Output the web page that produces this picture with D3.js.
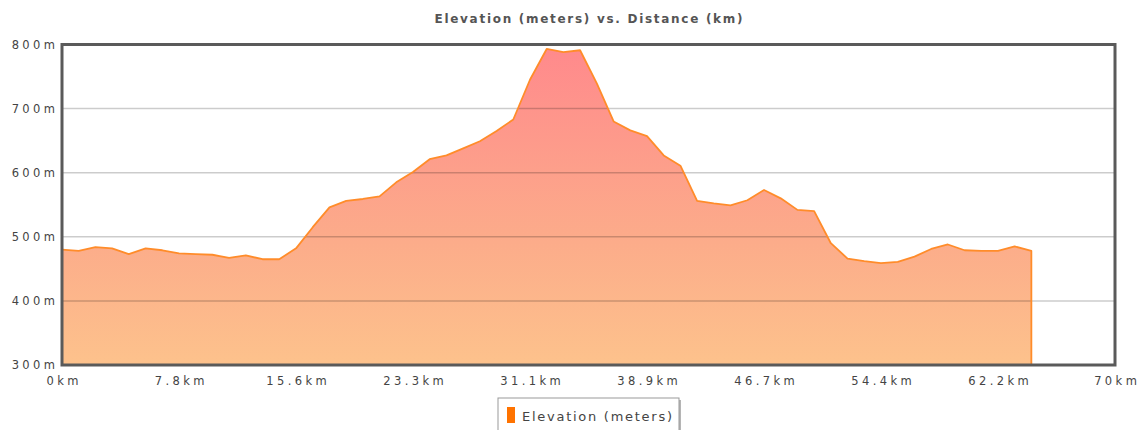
<!DOCTYPE html>
<html>
<head>
<meta charset="utf-8">
<script src="https://cdn.jsdelivr.net/npm/d3@7"></script>
<style>
  html, body { margin: 0; padding: 0; background: #fff; }
  svg { display: block; }
</style>
</head>
<body>
<svg id="chart" width="1147" height="430"></svg>
<script>
// ---- Data ----
const distanceKm = [0, 1.11, 2.22, 3.33, 4.44, 5.56, 6.67, 7.78, 8.89, 10.0,
  11.11, 12.22, 13.33, 14.44, 15.56, 16.67, 17.78, 18.89, 20.0, 21.11,
  22.22, 23.33, 24.44, 25.56, 26.67, 27.78, 28.89, 30.0, 31.11, 32.22,
  33.33, 34.44, 35.56, 36.67, 37.78, 38.89, 40.0, 41.11, 42.22, 43.33,
  44.44, 45.56, 46.67, 47.78, 48.89, 50.0, 51.11, 52.22, 53.33, 54.44,
  55.56, 56.67, 57.78, 58.89, 60.0, 61.11, 62.22, 63.33, 64.44];
const elevationM = [480, 478, 484, 482, 473, 482, 479, 474, 473, 472,
  467, 471, 465, 465, 482, 515, 546, 556, 559, 563,
  585, 601, 621, 627, 638, 649, 665, 683, 745, 793,
  788, 791, 739, 680, 666, 657, 627, 611, 556, 552,
  549, 557, 573, 560, 542, 540, 490, 466, 462, 459,
  461, 469, 481, 488, 479, 478, 478, 485, 478];
const xTickValues = [0, 7.78, 15.56, 23.33, 31.11, 38.89, 46.67, 54.44, 62.22, 70];
const xTickLabels = ["0km", "7.8km", "15.6km", "23.3km", "31.1km", "38.9km", "46.7km", "54.4km", "62.2km", "70km"];
const yTickValues = [300, 400, 500, 600, 700, 800];
const yTickLabels = ["300m", "400m", "500m", "600m", "700m", "800m"];
const titleText = "Elevation (meters) vs. Distance (km)";
const seriesName = "Elevation (meters)";

// ---- Layout ----
const svg = d3.select("#chart");
const plot = { left: 62, right: 1115, top: 44.5, bottom: 365 };
const labelFont = "DejaVu Sans, Verdana, sans-serif";
const ls = 3.4;

const x = d3.scaleLinear().domain([0, 70]).range([plot.left, plot.right]);
const y = d3.scaleLinear().domain([300, 800]).range([plot.bottom, plot.top]);

const data = distanceKm.map((d, i) => ({ d, e: elevationM[i] }));

// gradient
const defs = svg.append("defs");
const grad = defs.append("linearGradient")
  .attr("id", "fillGrad")
  .attr("gradientUnits", "userSpaceOnUse")
  .attr("x1", 0).attr("x2", 0)
  .attr("y1", plot.top).attr("y2", plot.bottom);
grad.append("stop").attr("offset", "0%").attr("stop-color", "#ff898c");
grad.append("stop").attr("offset", "60%").attr("stop-color", "#fcab8a");
grad.append("stop").attr("offset", "100%").attr("stop-color", "#fdc28c");

// title
svg.append("text")
  .attr("x", (plot.left + plot.right) / 2)
  .attr("y", 23)
  .attr("text-anchor", "middle")
  .attr("font-family", labelFont)
  .attr("font-weight", "bold")
  .attr("font-size", 12)
  .attr("fill", "#555")
  .attr("textLength", 308)
  .attr("lengthAdjust", "spacing")
  .text(titleText);

// area
const area = d3.area()
  .x(p => x(p.d))
  .y0(y(300))
  .y1(p => y(p.e));
svg.append("path")
  .datum(data)
  .attr("d", area)
  .attr("fill", "url(#fillGrad)");

// gridlines (semi-transparent, drawn over the fill)
svg.append("g")
  .selectAll("line")
  .data(yTickValues.filter(v => v > 300 && v < 800))
  .join("line")
  .attr("x1", plot.left).attr("x2", plot.right)
  .attr("y1", v => y(v)).attr("y2", v => y(v))
  .attr("stroke", "rgba(0,0,0,0.2)")
  .attr("stroke-width", 1.5);

// line along the top and closing edge at the end
const last = data[data.length - 1];
const line = d3.line().x(p => x(p.d)).y(p => y(p.e));
svg.append("path")
  .datum(data.concat([{ d: last.d, e: 300 }]))
  .attr("d", line)
  .attr("fill", "none")
  .attr("stroke", "#ff8c2a")
  .attr("stroke-width", 1.8)
  .attr("stroke-linejoin", "round");

// frame
svg.append("rect")
  .attr("x", plot.left).attr("y", plot.top)
  .attr("width", plot.right - plot.left)
  .attr("height", plot.bottom - plot.top)
  .attr("fill", "none")
  .attr("stroke", "#5a5a5a")
  .attr("stroke-width", 3);

// y axis labels
const yAxis = d3.axisLeft(y)
  .tickValues(yTickValues)
  .tickFormat((v, i) => yTickLabels[i])
  .tickSize(0)
  .tickPadding(7);
const gy = svg.append("g").attr("transform", `translate(${plot.left},0)`).call(yAxis);
gy.select(".domain").remove();
gy.selectAll("text")
  .attr("font-family", labelFont)
  .attr("font-size", 11.5)
  .attr("fill", "#444")
  .style("letter-spacing", ls + "px")
  .attr("dx", ls + "px");

// x axis labels
const xAxis = d3.axisBottom(x)
  .tickValues(xTickValues)
  .tickFormat((v, i) => xTickLabels[i])
  .tickSize(0)
  .tickPadding(12);
const gx = svg.append("g").attr("transform", `translate(0,${plot.bottom})`).call(xAxis);
gx.select(".domain").remove();
gx.selectAll("text")
  .attr("font-family", labelFont)
  .attr("font-size", 11.5)
  .attr("fill", "#444")
  .style("letter-spacing", ls + "px")
  .attr("dx", (ls / 2) + "px");

// legend
const lg = svg.append("g");
lg.append("rect")
  .attr("x", 500).attr("y", 400)
  .attr("width", 181).attr("height", 40)
  .attr("fill", "#b5b5b5");
lg.append("rect")
  .attr("x", 498).attr("y", 398)
  .attr("width", 181).attr("height", 40)
  .attr("fill", "#fff")
  .attr("stroke", "#999")
  .attr("stroke-width", 1);
lg.append("rect")
  .attr("x", 507).attr("y", 407)
  .attr("width", 8).attr("height", 16)
  .attr("fill", "#ff7300");
lg.append("text")
  .attr("x", 522).attr("y", 421)
  .attr("font-family", labelFont)
  .attr("font-size", 13)
  .attr("fill", "#444")
  .attr("textLength", 150)
  .attr("lengthAdjust", "spacing")
  .text(seriesName);
</script>
</body>
</html>
